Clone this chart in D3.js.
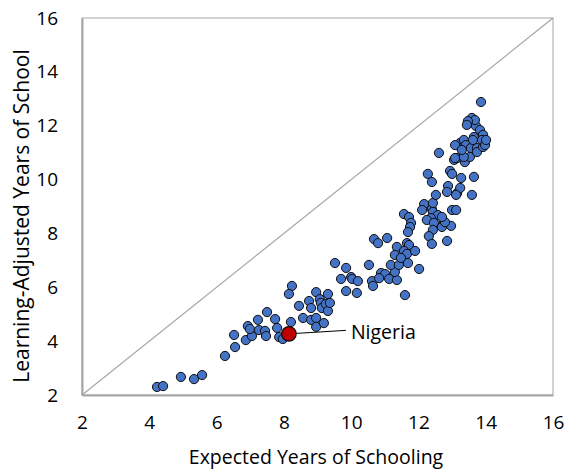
<!DOCTYPE html>
<html><head><meta charset="utf-8">
<script src="https://cdn.jsdelivr.net/npm/d3@7"></script>
<style>body{margin:0;background:#fff}svg{display:block}text{font-family:"Open Sans",sans-serif}</style>
</head><body><svg id="c" width="565" height="469"></svg>
<script>
const expectedYears = [4.23,4.41,4.94,5.33,5.57,6.25,6.55,6.52,6.87,7.05,6.93,6.99,7.23,7.26,7.44,7.47,7.50,7.74,7.80,7.86,7.97,8.21,8.24,8.15,8.45,8.57,8.75,8.81,8.81,8.96,8.96,8.96,9.07,9.10,9.13,9.19,9.25,9.31,9.31,9.37,9.52,9.85,9.70,10.00,10.03,10.20,9.85,10.17,10.53,10.62,10.65,10.89,11.01,10.83,11.13,11.36,11.30,10.68,10.80,11.07,11.18,11.42,11.60,11.36,11.57,11.72,11.78,11.75,11.69,11.66,11.72,11.57,11.66,11.30,11.48,11.69,11.90,12.02,12.17,12.11,12.40,12.43,12.43,12.58,12.37,12.25,12.46,12.76,12.70,12.97,12.79,12.70,12.43,12.31,12.85,12.40,12.28,12.40,12.52,12.61,12.88,12.85,13.15,13.00,13.12,12.94,13.00,13.27,13.65,13.24,13.12,13.59,13.06,13.15,13.38,13.09,13.24,13.35,13.29,13.41,13.56,13.53,13.35,13.09,13.74,13.74,13.65,13.62,13.71,13.83,13.92,13.89,13.92,13.98,13.59,13.68,13.47,13.44,13.86,13.29,14.01];
const learningAdjusted = [2.30,2.33,2.67,2.59,2.74,3.45,3.78,4.23,4.04,4.19,4.56,4.45,4.79,4.41,4.38,4.19,5.08,4.82,4.49,4.15,4.08,4.71,6.05,5.75,5.31,4.86,5.49,5.23,4.79,5.82,4.86,4.53,5.56,5.42,5.23,4.67,5.38,5.75,5.12,5.42,6.90,6.72,6.31,6.38,6.31,6.23,5.86,5.79,6.83,6.23,6.05,6.53,6.49,6.34,6.31,6.27,6.57,7.79,7.64,7.83,6.83,6.83,5.71,7.50,8.72,8.61,8.39,8.24,8.05,7.64,7.57,7.35,7.24,7.20,7.09,6.90,7.35,6.68,9.09,8.87,8.91,8.80,9.13,8.68,8.57,8.50,8.39,8.39,8.24,8.28,8.42,8.61,8.13,7.90,7.72,7.61,10.21,9.91,9.43,10.99,9.76,9.54,9.50,8.87,8.87,10.32,10.21,10.06,10.10,9.69,9.43,9.43,10.73,10.80,10.65,10.80,11.36,11.47,11.17,11.28,11.17,10.84,10.84,11.28,11.17,11.02,11.58,11.47,11.99,11.84,11.66,11.47,11.21,11.28,12.29,12.21,12.17,12.03,12.88,11.10,11.47];
const highlight = {name: "Nigeria", x: 8.15, y: 4.27};
const xTicks = [2,4,6,8,10,12,14,16];
const yTicks = [2,4,6,8,10,12,14,16];
const xTitle = "Expected Years of Schooling";
const yTitle = "Learning-Adjusted Years of School";

const svg = d3.select("#c");
const L = 82, R = 553, T = 18, B = 395;
const x = d3.scaleLinear().domain([2,16]).range([L,R]);
const y = d3.scaleLinear().domain([2,16]).range([B,T]);

// frame
svg.append("rect").attr("x",L).attr("y",T).attr("width",R-L).attr("height",B-T)
  .attr("fill","none").attr("stroke","#a6a6a6").attr("stroke-width",1);
// diagonal
svg.append("line").attr("x1",x(2)).attr("y1",y(2)).attr("x2",x(16)).attr("y2",y(16))
  .attr("stroke","#a6a6a6").attr("stroke-width",1.2);

// axes
const xa = svg.append("g").attr("transform",`translate(0,${B})`)
  .call(d3.axisBottom(x).tickValues(xTicks).tickSize(0).tickPadding(21).tickFormat(d3.format("d")));
const ya = svg.append("g").attr("transform",`translate(${L},0)`)
  .call(d3.axisLeft(y).tickValues(yTicks).tickSize(0).tickPadding(24).tickFormat(d3.format("d")));
[xa,ya].forEach(g=>{
  g.select(".domain").attr("stroke","#a6a6a6").attr("stroke-width",2);
  g.selectAll("text").attr("font-size",19).attr("fill","#000").attr("font-family","'Open Sans',sans-serif");
});

svg.append("text").attr("x",316).attr("y",464).attr("text-anchor","middle")
  .attr("font-size",19.5).attr("fill","#000").text(xTitle);
svg.append("text").attr("transform",`translate(29,216) rotate(-90)`).attr("text-anchor","middle")
  .attr("font-size",21).attr("fill","#000").text(yTitle);

// points
const pts = expectedYears.map((v,i)=>({x:v,y:learningAdjusted[i]}));
svg.append("g").selectAll("circle").data(pts).join("circle")
  .attr("cx",d=>x(d.x)).attr("cy",d=>y(d.y)).attr("r",4.6)
  .attr("fill","#4472c4").attr("stroke","#0d0d0d").attr("stroke-width",1);

// highlight
svg.append("line").attr("x1",x(highlight.x)).attr("y1",y(highlight.y))
  .attr("x2",x(highlight.x)+57).attr("y2",y(highlight.y)-3.5)
  .attr("stroke","#000").attr("stroke-width",1);
svg.append("circle").attr("cx",x(highlight.x)).attr("cy",y(highlight.y)).attr("r",7.3)
  .attr("fill","#c00000").attr("stroke","#0d0d0d").attr("stroke-width",1.2);
svg.append("text").attr("x",x(highlight.x)+62).attr("y",y(highlight.y)-2).attr("dy","0.35em")
  .attr("font-size",19.5).attr("fill","#000").text(highlight.name);
</script></body></html>
